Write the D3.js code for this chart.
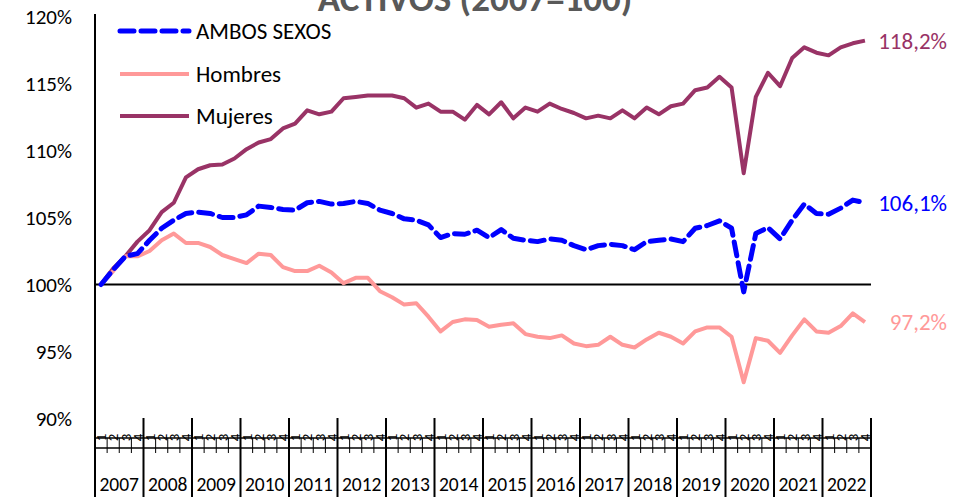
<!DOCTYPE html>
<html>
<head>
<meta charset="utf-8">
<script src="https://cdn.jsdelivr.net/npm/d3@7"></script>
<style>
  body { margin: 0; background: #fff; }
  svg { display: block; font-family: Carlito, Calibri, Lato, sans-serif; }
</style>
</head>
<body>
<svg id="chart"></svg>
<script>
// Data (index 2007 = 100)
const years = [2007, 2008, 2009, 2010, 2011, 2012, 2013, 2014,
               2015, 2016, 2017, 2018, 2019, 2020, 2021, 2022];
const quarters = ["1", "2", "3", "4"];
const yTicks = [90, 95, 100, 105, 110, 115, 120];

const ambos = [
    100, 101.1, 102.1, 102.3,
    103.3, 104.2, 104.8, 105.3,
    105.4, 105.3, 105.0, 105.0,
    105.2, 105.85, 105.75, 105.6,
    105.55, 106.1, 106.2, 106.0,
    106.05, 106.2, 106.05, 105.55,
    105.3, 104.9, 104.8, 104.45,
    103.5, 103.8, 103.75, 104.05,
    103.5, 104.1, 103.45, 103.3,
    103.2, 103.4, 103.3, 102.9,
    102.6, 102.9, 103.0, 102.9,
    102.6, 103.2, 103.3, 103.4,
    103.2, 104.2, 104.4, 104.75,
    104.2, 99.45, 103.8, 104.25,
    103.4, 104.8, 106.0, 105.3,
    105.25, 105.7, 106.3, 106.1
];
const hombres = [
    100, 101.0, 102.1, 102.1,
    102.5, 103.3, 103.8, 103.1,
    103.1, 102.8, 102.2, 101.9,
    101.6, 102.3, 102.2, 101.3,
    101.0, 101.0, 101.4, 100.9,
    100.1, 100.5, 100.5, 99.5,
    99.05, 98.5, 98.6, 97.6,
    96.5, 97.2, 97.4, 97.35,
    96.85, 97.0, 97.1, 96.3,
    96.1, 96.0, 96.2, 95.6,
    95.4, 95.5, 96.1, 95.5,
    95.3, 95.9, 96.4, 96.1,
    95.6, 96.5, 96.8, 96.8,
    96.1, 92.7, 96.0, 95.8,
    94.9, 96.2, 97.4, 96.5,
    96.4, 96.9, 97.85, 97.2
];
const mujeres = [
    100, 101.2, 102.1, 103.2,
    104.05, 105.4, 106.1, 108.0,
    108.6, 108.9, 108.95, 109.4,
    110.1, 110.6, 110.85, 111.65,
    112.0, 113.0, 112.7, 112.9,
    113.9, 114.0, 114.1, 114.1,
    114.1, 113.9, 113.2, 113.5,
    112.9, 112.9, 112.3, 113.4,
    112.7, 113.6, 112.4, 113.2,
    112.9, 113.5, 113.1, 112.8,
    112.4, 112.6, 112.4, 113.0,
    112.4, 113.2, 112.7, 113.3,
    113.5, 114.5, 114.7, 115.5,
    114.7, 108.3, 114.0, 115.8,
    114.8, 116.9, 117.7, 117.3,
    117.1, 117.7, 118.0, 118.2
];

const series = [
    {name: "AMBOS SEXOS", values: ambos, color: "#0000ff", width: 5, dash: "14,7", legendY: 31},
    {name: "Hombres", values: hombres, color: "#ff9999", width: 4, dash: null, legendY: 74},
    {name: "Mujeres", values: mujeres, color: "#993366", width: 4, dash: null, legendY: 116}
];

const W = 953, H = 497;
const x0 = 95, x1 = 871;

const svg = d3.select("#chart").attr("width", W).attr("height", H);

// categories: one per quarter
const cats = [];
years.forEach(y => quarters.forEach(q => cats.push(y + "-" + q)));

const x = d3.scaleBand().domain(cats).range([x0, x1]);
const xYear = d3.scaleBand().domain(years).range([x0, x1]);
const y = d3.scaleLinear().domain([90, 120]).range([418.5, 16.5]);

const cx = i => x(cats[i]) + x.bandwidth() / 2;

// Title (clipped at the top as in the reference)
svg.append("text")
    .attr("x", 475).attr("y", 11)
    .attr("text-anchor", "middle")
    .style("font-size", "37px").style("font-weight", "bold")
    .attr("fill", "#595959")
    .text("ACTIVOS (2007=100)");

// Y tick labels
svg.append("g").selectAll("text")
    .data(yTicks)
    .join("text")
    .attr("x", 72).attr("y", d => y(d))
    .attr("dy", "0.35em")
    .attr("text-anchor", "end")
    .style("font-size", "21px")
    .text(d => d + "%");

// Vertical axis
svg.append("line")
    .attr("x1", x0).attr("x2", x0).attr("y1", 14).attr("y2", H)
    .attr("stroke", "#000").attr("stroke-width", 2);

// Horizontal axis at 100%
svg.append("line")
    .attr("x1", x0).attr("x2", x1).attr("y1", y(100)).attr("y2", y(100))
    .attr("stroke", "#000").attr("stroke-width", 2);

// Category axis (multi level) at the bottom
const cat = svg.append("g");
cat.selectAll(".q")
    .data(cats)
    .join("text")
    .attr("class", "q")
    .attr("transform", d => `translate(${x(d) + x.bandwidth() / 2},437.5) rotate(-90)`)
    .attr("dy", "0.35em")
    .attr("text-anchor", "middle")
    .style("font-size", "15px")
    .text(d => d.split("-")[1]);

[438, 448].forEach(yy => {
    cat.append("line")
        .attr("x1", x0).attr("x2", x1).attr("y1", yy).attr("y2", yy)
        .attr("stroke", "#000").attr("stroke-width", 1.5);
});

cat.selectAll(".qt")
    .data(cats.filter((d, i) => i % 4 !== 0))
    .join("line")
    .attr("class", "qt")
    .attr("x1", d => x(d)).attr("x2", d => x(d))
    .attr("y1", 438).attr("y2", 453)
    .attr("stroke", "#000").attr("stroke-width", 1);

cat.selectAll(".ysep")
    .data(years.concat(["end"]))
    .join("line")
    .attr("class", "ysep")
    .attr("x1", d => d === "end" ? x1 : xYear(d))
    .attr("x2", d => d === "end" ? x1 : xYear(d))
    .attr("y1", 418).attr("y2", H)
    .attr("stroke", "#000").attr("stroke-width", 2);

cat.selectAll(".yl")
    .data(years)
    .join("text")
    .attr("class", "yl")
    .attr("x", d => xYear(d) + xYear.bandwidth() / 2)
    .attr("y", 491)
    .attr("text-anchor", "middle")
    .style("font-size", "19.5px")
    .text(d => d);

// Lines
const line = d3.line()
    .x((d, i) => cx(i))
    .y(d => y(d));

svg.append("g").selectAll("path")
    .data(series.slice().reverse())
    .join("path")
    .attr("d", d => line(d.values))
    .attr("fill", "none")
    .attr("stroke", d => d.color)
    .attr("stroke-width", d => d.width)
    .attr("stroke-dasharray", d => d.dash)
    .attr("stroke-linejoin", "round")
    .attr("stroke-linecap", d => d.dash ? "round" : "butt");

// End labels
const fmt = v => v.toFixed(1).replace(".", ",") + "%";
svg.append("g").selectAll("text")
    .data(series)
    .join("text")
    .attr("x", 947)
    .attr("y", d => y(d.values[d.values.length - 1]))
    .attr("dy", "0.35em")
    .attr("text-anchor", "end")
    .attr("fill", d => d.color)
    .style("font-size", "23px")
    .text(d => fmt(d.values[d.values.length - 1]));

// Legend
const leg = svg.append("g");
leg.selectAll("line")
    .data(series)
    .join("line")
    .attr("x1", 120).attr("x2", 189)
    .attr("y1", d => d.legendY).attr("y2", d => d.legendY)
    .attr("stroke", d => d.color)
    .attr("stroke-width", d => d.width)
    .attr("stroke-dasharray", d => d.dash)
    .attr("stroke-linecap", d => d.dash ? "round" : "butt");
leg.selectAll("text")
    .data(series)
    .join("text")
    .attr("x", 196)
    .attr("y", d => d.legendY)
    .attr("dy", "0.35em")
    .style("font-size", "23px")
    .text(d => d.name);
</script>
</body>
</html>
